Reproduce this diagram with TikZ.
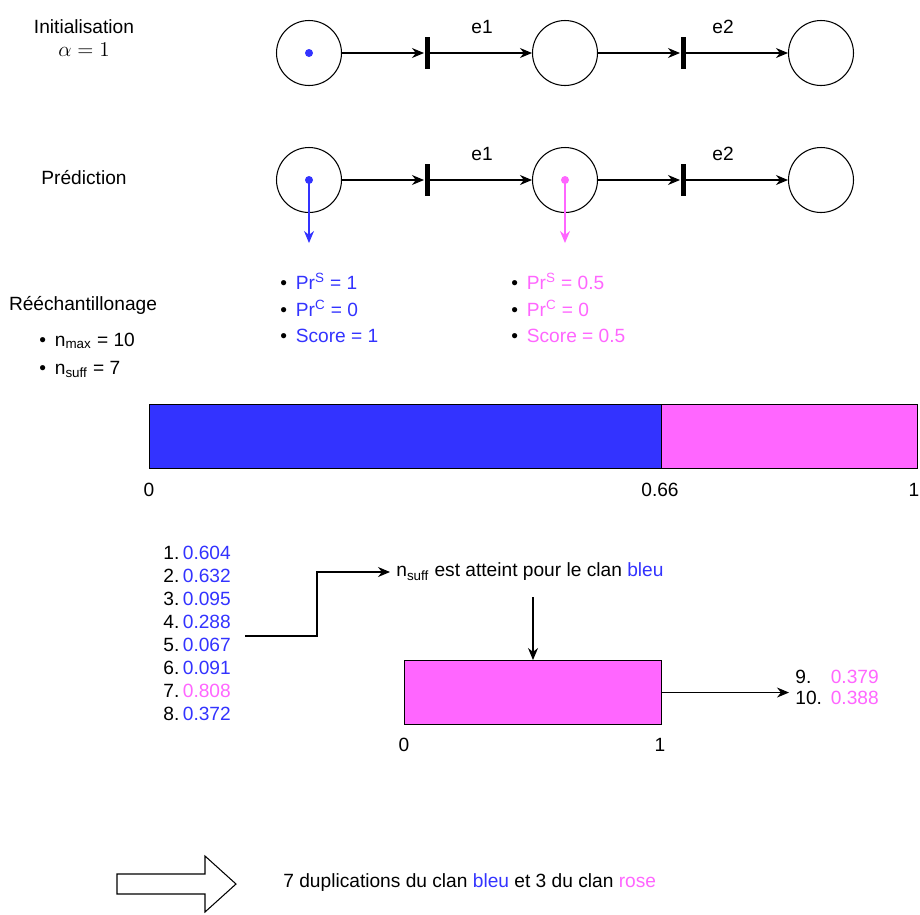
\documentclass[tikz,border=0pt]{standalone}
\usepackage{fontspec}
\setmainfont{Liberation Sans}
\usetikzlibrary{arrows.meta, positioning}
\definecolor{bleu}{HTML}{3333FF}
\definecolor{rose}{HTML}{FF66FF}
\newcommand{\puce}{\textbullet\hspace{5pt}}

\begin{document}
\begin{tikzpicture}[x=0.02cm, y=-0.02cm, >={Stealth[length=2.4mm, width=2mm]}, line width=0.6pt,
  every node/.style={font=\fontsize{10.9}{15}\selectfont},
  place/.style={draw, circle, minimum size=1.3cm, inner sep=0},
  trans/.style={fill=black, minimum width=0.1cm, minimum height=0.64cm, inner sep=0},
  jeton/.style={circle, fill=#1, minimum size=0.16cm, inner sep=0},
  bande/.style={draw, minimum height=1.28cm, inner sep=0, anchor=north west}]
\useasboundingbox (0,0) rectangle (920,914);
% reseaux de Petri
\foreach \r/\y in {a/53, b/180} {
  \node[place] (p1\r) at (309,\y) {};
  \node[trans] (t1\r) at (427,\y) {};
  \node[place] (p2\r) at (565,\y) {};
  \node[trans] (t2\r) at (683,\y) {};
  \node[place] (p3\r) at (821,\y) {};
  \draw[->] (p1\r) -- (t1\r);
  \draw[->] (t1\r) -- (p2\r);
  \draw[->] (p2\r) -- (t2\r);
  \draw[->] (t2\r) -- (p3\r);
  \node (e1\r) at (482,\y-26) {e1};
  \node (e2\r) at (723,\y-26) {e2};
}
\node[align=center] (init) at (84,38) {Initialisation\\[-2pt] \large$\alpha = 1$};
\node (pred) at (84,178) {Prédiction};
% jetons
\node[jeton=bleu] (j0) at (p1a) {};
\node[jeton=bleu] (j1) at (p1b) {};
\node[jeton=rose] (j2) at (p2b) {};
\coordinate (fb) at (309,243);
\coordinate (fr) at (565,243);
\draw[->, bleu] (j1.center) -- (fb);
\draw[->, rose] (j2.center) -- (fr);
% scores
\node[anchor=west, align=left] (scb) at (274,308) {\puce\textcolor{bleu}{Pr\textsuperscript{S} = 1}\\ \puce\textcolor{bleu}{Pr\textsuperscript{C} = 0}\\ \puce\textcolor{bleu}{Score = 1}};
\node[anchor=west, align=left] (scr) at (505,308) {\puce\textcolor{rose}{Pr\textsuperscript{S} = 0.5}\\ \puce\textcolor{rose}{Pr\textsuperscript{C} = 0}\\ \puce\textcolor{rose}{Score = 0.5}};
% reechantillonage
\node (reech) at (83,305) {Rééchantillonage};
\node[anchor=west, align=left] (param) at (33,355) {\puce n\textsubscript{max} = 10\\[1pt] \puce n\textsubscript{suff} = 7};
\node[bande, fill=bleu, minimum width=10.24cm] (partb) at (149,404) {};
\node[bande, fill=rose, minimum width=5.12cm] (partr) at (661,404) {};
\node (b0) at (149,490) {0};
\node (b66) at (660,490) {0.66};
\node (b1) at (914,490) {1};
% tirages
\foreach \v/\c [count=\i] in {0.604/bleu, 0.632/bleu, 0.095/bleu, 0.288/bleu, 0.067/bleu, 0.091/bleu, 0.808/rose, 0.372/bleu}
  \node[anchor=west] (v\i) at (157,530+23*\i) {\i.\hspace{2pt}\textcolor{\c}{\v}};
\coordinate (depart) at (245,636);
\node[anchor=west] (nsuff) at (390,572) {n\textsubscript{suff} est atteint pour le clan \textcolor{bleu}{bleu}};
\draw[->] (depart) -- ++(72,0) |- (nsuff.west);
\node[bande, fill=rose, minimum width=5.14cm] (tirage) at (404,660) {};
\draw[->, shorten <=0.2cm] (tirage.north |- nsuff.south) -- (tirage.north);
\node (c0) at (404,745) {0};
\node (c1) at (660,745) {1};
\node[anchor=west] (suite) at (789,689) {\begin{tabular}{@{}l@{\hspace{5pt}}l@{}} 9. & \textcolor{rose}{0.379}\\[-3pt] 10. & \textcolor{rose}{0.388} \end{tabular}};
\draw[->] (tirage.east) -- (tirage.east -| suite.west);
% bilan
\draw (117,874) -- (205,874) -- (205,856) -- (236,884) -- (205,912) -- (205,894) -- (117,894) -- cycle;
\node[anchor=west] (bilan) at (277,883) {7 duplications du clan \textcolor{bleu}{bleu} et 3 du clan \textcolor{rose}{rose}};
\end{tikzpicture}
\end{document}
